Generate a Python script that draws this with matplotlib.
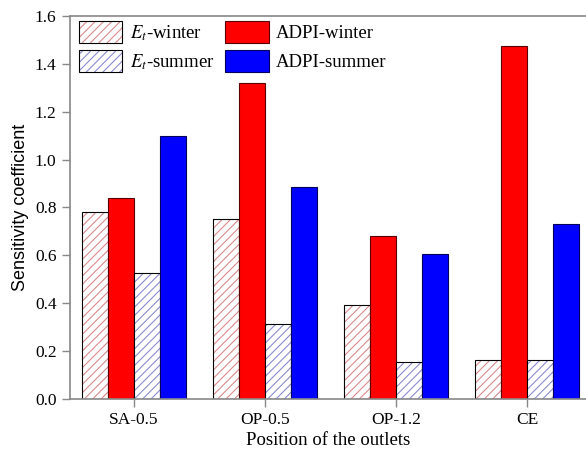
import numpy as np
import matplotlib.pyplot as plt
from matplotlib.patches import Patch

# data
positions = ["SA-0.5", "OP-0.5", "OP-1.2", "CE"]
et_winter = [0.78, 0.752, 0.393, 0.164]
adpi_winter = [0.84, 1.32, 0.682, 1.473]
et_summer = [0.525, 0.314, 0.155, 0.164]
adpi_summer = [1.10, 0.887, 0.605, 0.73]

plt.rcParams['font.family'] = ['Liberation Serif', 'DejaVu Serif']
plt.rcParams['mathtext.fontset'] = 'stix'
plt.rcParams['hatch.linewidth'] = 0.8

fig = plt.figure(figsize=(5.86, 4.59), dpi=100)
ax = fig.add_axes([0.119, 0.131, 0.881, 0.834])

x = np.arange(len(positions))
w = 0.2
red_h, blue_h = '#d9898c', '#8a8ad0'

# hatched bars: coloured hatch lines, black outline drawn on top
ax.bar(x - 1.5 * w, et_winter, w, color='white', edgecolor=red_h, hatch='////', linewidth=0)
ax.bar(x - 1.5 * w, et_winter, w, fill=False, edgecolor='black', linewidth=0.8)
ax.bar(x - 0.5 * w, adpi_winter, w, color='#ff0000', edgecolor='#5a0000', linewidth=0.8)
ax.bar(x + 0.5 * w, et_summer, w, color='white', edgecolor=blue_h, hatch='////', linewidth=0)
ax.bar(x + 0.5 * w, et_summer, w, fill=False, edgecolor='black', linewidth=0.8)
ax.bar(x + 1.5 * w, adpi_summer, w, color='#0000ff', edgecolor='#00005a', linewidth=0.8)

ax.set_xlim(-0.49, 3.45)
ax.set_ylim(0, 1.6)
ax.set_xticks(x)
ax.set_xticklabels(positions)
ax.set_yticks(np.arange(0, 1.61, 0.2))
ax.set_yticklabels([f"{v:.1f}" for v in np.arange(0, 1.61, 0.2)])
ax.tick_params(labelsize=12.5, color='#888888', length=6, width=1)

for s in ['left', 'bottom', 'top']:
    ax.spines[s].set_color('#888888')
    ax.spines[s].set_linewidth(1.2)
ax.spines['right'].set_visible(False)

ax.set_xlabel("Position of the outlets", fontsize=13.5, labelpad=3)
ax.set_ylabel("Sensitivity coefficient", fontsize=13, family=['Liberation Sans', 'DejaVu Sans'], labelpad=4)

handles = [
    (Patch(facecolor='white', edgecolor=red_h, hatch='////', linewidth=0),
     Patch(fill=False, edgecolor='black', linewidth=0.8)),
    (Patch(facecolor='white', edgecolor=blue_h, hatch='////', linewidth=0),
     Patch(fill=False, edgecolor='black', linewidth=0.8)),
    Patch(facecolor='#ff0000', edgecolor='#5a0000', linewidth=0.8),
    Patch(facecolor='#0000ff', edgecolor='#00005a', linewidth=0.8),
]
labels = [r'$E_t$-winter', r'$E_t$-summer', 'ADPI-winter', 'ADPI-summer']
ax.legend(handles, labels, loc='upper left', ncol=2, frameon=False, fontsize=13.5,
          handlelength=2.3, handleheight=1.45, columnspacing=0.6,
          labelspacing=0.35, handletextpad=0.4,
          bbox_to_anchor=(0.0, 1.012), borderaxespad=0.1)

fig.savefig("out.png", dpi=100)
